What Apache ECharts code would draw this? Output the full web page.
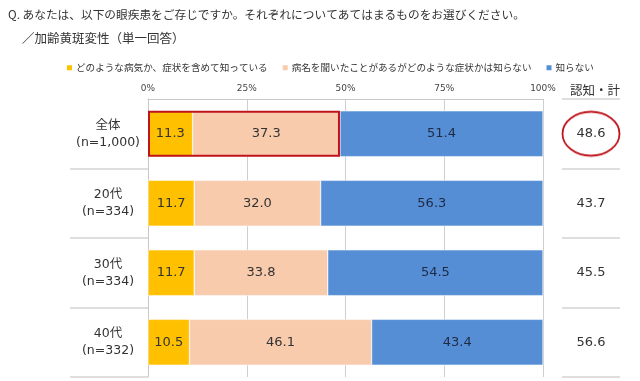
<!DOCTYPE html>
<html><head><meta charset="utf-8">
<script src="https://cdn.jsdelivr.net/npm/echarts@6/dist/echarts.min.js"></script>
<style>html,body{margin:0;padding:0;background:#fff}#c{width:640px;height:381px}</style>
</head><body><div id="c"></div>
<script>
const categories = ['全体\n(n=1,000)', '20代\n(n=334)', '30代\n(n=334)', '40代\n(n=332)'];
const seriesNames = ['どのような病気か、症状を含めて知っている', '病名を聞いたことがあるがどのような症状かは知らない', '知らない'];
const knowDetail = [11.3, 11.7, 11.7, 10.5];
const heardName = [37.3, 32.0, 33.8, 46.1];
const dontKnow = [51.4, 56.3, 54.5, 43.4];
const recognitionTotal = [48.6, 43.7, 45.5, 56.6];
const titleText = 'Q. あなたは、以下の眼疾患をご存じですか。それぞれについてあてはまるものをお選びください。';
const subTitleText = '／加齢黄斑変性（単一回答）';
const totalHeader = '認知・計';

const JP = '"Noto Sans CJK JP", "DejaVu Sans", sans-serif';
const NUM = '"DejaVu Sans", "Noto Sans CJK JP", sans-serif';
const colors = ['#FFC000', '#F8CBAD', '#558ED5'];
const labelColors = ['#333', '#333', '#1F2A44'];

// ellipse image used as a background for the highlighted total label
const ell = document.createElement('canvas');
ell.width = 60; ell.height = 47;
(function () {
  const g = ell.getContext('2d');
  g.strokeStyle = '#C0141C'; g.lineWidth = 1.8;
  g.beginPath(); g.ellipse(30, 23.5, 28.5, 22, 0, 0, Math.PI * 2); g.stroke();
})();

const chart = echarts.init(document.getElementById('c'));
const barW = '66%';
const vals = [knowDetail, heardName, dontKnow];
const series = vals.map((d, i) => ({
  name: seriesNames[i], type: 'bar', stack: 'a', barWidth: barW,
  data: d,
  itemStyle: { color: colors[i], borderColor: '#fff', borderWidth: 0.5 },
  label: { show: true, position: 'inside', color: labelColors[i], fontSize: 13, fontFamily: NUM, formatter: p => p.value.toFixed(1) }
}));
series.push({
  name: 'highlight', type: 'bar', barWidth: barW, barGap: '-100%', z: 5,
  data: knowDetail.map((v, i) => i === 0 ? +(v + heardName[i]).toFixed(1) : null),
  itemStyle: { color: 'rgba(0,0,0,0)', borderColor: '#C0141C', borderWidth: 2 },
  silent: true, label: { show: false }
});

chart.setOption({
  animation: false,
  color: colors,
  title: [
    { text: titleText, left: 3, top: 4, textStyle: { fontSize: 11.7, fontWeight: 'normal', color: '#333', fontFamily: JP } },
    { text: subTitleText, left: 17, top: 27, textStyle: { fontSize: 12.5, fontWeight: 'normal', color: '#333', fontFamily: JP } },
    { text: totalHeader, left: 565, top: 79, textStyle: { fontSize: 12.5, fontWeight: 'normal', color: '#333', fontFamily: JP } }
  ],
  legend: {
    data: seriesNames, left: 60, top: 58, width: 600, itemWidth: 7, itemHeight: 7, itemGap: 13,
    icon: 'rect', textStyle: { fontSize: 9.6, color: '#333', fontFamily: JP, padding: [0, 0, 0, -2] }
  },
  grid: { left: 148, right: 97, top: 99, bottom: 4 },
  xAxis: {
    type: 'value', min: 0, max: 100, interval: 25, position: 'top',
    axisLine: { show: true, lineStyle: { color: '#c8c8c8' } },
    axisTick: { show: false },
    axisLabel: { formatter: '{value}%', fontSize: 9, color: '#444', fontFamily: NUM, margin: 6 },
    splitLine: { show: true, lineStyle: { color: '#cfcfcf' } }
  },
  yAxis: [
    {
      type: 'category', data: categories, inverse: true,
      axisLine: { show: true, lineStyle: { color: '#c8c8c8' } },
      axisTick: { show: true, length: 78, interval: (i) => i !== 0, lineStyle: { color: '#d4d4d4', width: 1.5 } },
      axisLabel: { fontSize: 12.5, color: '#333', fontFamily: NUM, align: 'center', margin: 40, lineHeight: 17 }
    },
    {
      type: 'category', data: recognitionTotal, inverse: true, position: 'right', offset: 19,
      axisLine: { show: false },
      axisTick: { show: true, length: 58, lineStyle: { color: '#d4d4d4', width: 1.5 } },
      axisLabel: {
        fontSize: 13, color: '#333', fontFamily: NUM, align: 'center', margin: 29,
        formatter: (v, i) => i === 0 ? '{hl|' + Number(v).toFixed(1) + '}' : Number(v).toFixed(1),
        rich: { hl: { fontSize: 13, color: '#333', fontFamily: NUM, width: 60, height: 47, align: 'center', verticalAlign: 'middle', backgroundColor: { image: ell } } }
      }
    }
  ],
  series: series
});
</script></body></html>
